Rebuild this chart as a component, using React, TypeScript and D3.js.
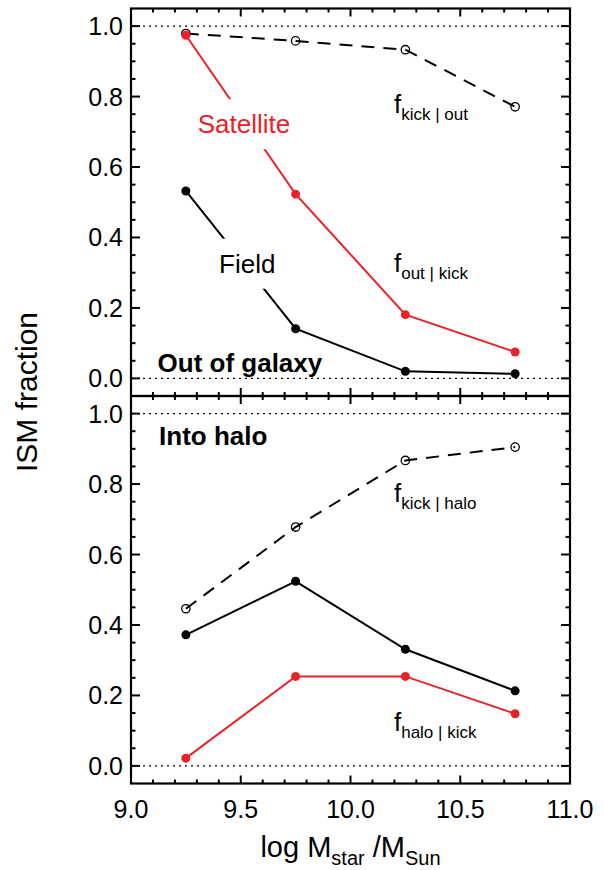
import React, { useEffect, useRef } from 'react';
import * as d3 from 'd3';

// stellar mass bins (log M_star / M_Sun)
const massBins = [9.25, 9.75, 10.25, 10.75];

// top panel: out of galaxy
const kickOut = [0.979, 0.958, 0.933, 0.771];
const satelliteOut = [0.974, 0.523, 0.181, 0.075];
const fieldOut = [0.532, 0.141, 0.020, 0.013];

// bottom panel: into halo
const kickHalo = [0.446, 0.678, 0.867, 0.905];
const fieldHalo = [0.372, 0.524, 0.331, 0.213];
const satelliteHalo = [0.022, 0.254, 0.254, 0.148];

const xTicks = [9.0, 9.5, 10.0, 10.5, 11.0];
const yTicks = [0.0, 0.2, 0.4, 0.6, 0.8, 1.0];

const W = 604;
const H = 870;
const left = 131;
const right = 570;
const panelTops = [8.5, 396];
const panelH = 387.5;
const RED = '#e8222a';
const FONT = '"Liberation Sans", Arial, Helvetica, sans-serif';

const x = d3.scaleLinear().domain([9, 11]).range([left, right]);

type Series = { values: number[]; color: string; dashed?: boolean; open?: boolean };
type Note = { x: number; y: number; main: string; sub?: string; color?: string; bold?: boolean; size?: number; gap?: boolean };

const GapLabel: React.FC<{ note: Note; y: d3.ScaleLinear<number, number> }> = ({ note, y }) => {
  const textRef = useRef<SVGTextElement>(null);
  const rectRef = useRef<SVGRectElement>(null);
  useEffect(() => {
    if (!note.gap || !textRef.current || !rectRef.current) return;
    const b = textRef.current.getBBox();
    d3.select(rectRef.current)
      .attr('x', b.x - 6)
      .attr('y', b.y - 10)
      .attr('width', b.width + 12)
      .attr('height', b.height + 20);
  }, [note, y]);
  return (
    <g>
      {note.gap && <rect ref={rectRef} fill="#fff" />}
      <text
        ref={textRef}
        x={x(note.x)}
        y={y(note.y)}
        fill={note.color || '#000'}
        fontFamily={FONT}
        fontSize={note.size || 26}
        fontWeight={note.bold ? 'bold' : 'normal'}
      >
        {note.main}
        {note.sub && (
          <tspan fontSize={17} dy={7}>{note.sub}</tspan>
        )}
      </text>
    </g>
  );
};

const Panel: React.FC<{ top: number; series: Series[]; notes: Note[]; showX: boolean }> = ({ top, series, notes, showX }) => {
  const y = d3.scaleLinear().domain([-0.05, 1.05]).range([top + panelH, top]);
  const line = d3.line<number>().x((_, i) => x(massBins[i])).y(d => y(d));
  const xMinor = d3.range(9, 11.0001, 0.1);
  const yMinor = d3.range(0, 1.0001, 0.05);
  const isMajorX = (v: number) => Math.abs(v * 2 - Math.round(v * 2)) < 1e-6;
  const isMajorY = (v: number) => Math.abs(v * 5 - Math.round(v * 5)) < 1e-6;
  const bottom = top + panelH;

  return (
    <g>
      {/* reference levels */}
      {[0, 1].map(v => (
        <line key={v} x1={left} x2={right} y1={y(v)} y2={y(v)} stroke="#000" strokeWidth={1.2} strokeDasharray="2,4" />
      ))}

      {series.map((s, i) => (
        <path key={i} d={line(s.values) || ''} fill="none" stroke={s.color} strokeWidth={2}
          strokeDasharray={s.dashed ? '13,9' : undefined} />
      ))}
      {series.map((s, i) => (
        <g key={'m' + i}>
          {s.values.map((v, j) => (
            <circle key={j} cx={x(massBins[j])} cy={y(v)} r={s.open ? 4.2 : 4.5}
              fill={s.open ? 'none' : s.color} stroke={s.color} strokeWidth={s.open ? 1.3 : 0} />
          ))}
        </g>
      ))}

      {notes.map((n, i) => <GapLabel key={i} note={n} y={y} />)}

      {/* ticks on all four sides */}
      {xMinor.map((v, i) => {
        const len = isMajorX(v) ? 8 : 4;
        return (
          <g key={'xt' + i}>
            <line x1={x(v)} x2={x(v)} y1={bottom} y2={bottom - len} stroke="#000" strokeWidth={2} />
            <line x1={x(v)} x2={x(v)} y1={top} y2={top + len} stroke="#000" strokeWidth={2} />
          </g>
        );
      })}
      {yMinor.map((v, i) => {
        const len = isMajorY(v) ? 9 : 4.5;
        return (
          <g key={'yt' + i}>
            <line x1={left} x2={left + len} y1={y(v)} y2={y(v)} stroke="#000" strokeWidth={2} />
            <line x1={right} x2={right - len} y1={y(v)} y2={y(v)} stroke="#000" strokeWidth={2} />
          </g>
        );
      })}
      {yTicks.map(v => (
        <text key={'yl' + v} x={left - 8} y={y(v) + 9} textAnchor="end" fontFamily={FONT} fontSize={25}>
          {v.toFixed(1)}
        </text>
      ))}
      {showX && xTicks.map(v => (
        <text key={'xl' + v} x={x(v)} y={818} textAnchor="middle" fontFamily={FONT} fontSize={25}>
          {v.toFixed(1)}
        </text>
      ))}
      <rect x={left} y={top} width={right - left} height={panelH} fill="none" stroke="#000" strokeWidth={2.2} />
    </g>
  );
};

const topSeries: Series[] = [
  { values: kickOut, color: '#000', dashed: true, open: true },
  { values: satelliteOut, color: RED },
  { values: fieldOut, color: '#000' },
];
const topNotes: Note[] = [
  { x: 9.304, y: 0.696, main: 'Satellite', color: RED, gap: true },
  { x: 9.401, y: 0.300, main: 'Field', gap: true },
  { x: 10.198, y: 0.752, main: 'f', sub: 'kick | out' },
  { x: 10.198, y: 0.303, main: 'f', sub: 'out | kick' },
  { x: 9.121, y: 0.019, main: 'Out of galaxy', bold: true },
];

const bottomSeries: Series[] = [
  { values: kickHalo, color: '#000', dashed: true, open: true },
  { values: fieldHalo, color: '#000' },
  { values: satelliteHalo, color: RED },
];
const bottomNotes: Note[] = [
  { x: 9.128, y: 0.910, main: 'Into halo', bold: true },
  { x: 10.198, y: 0.749, main: 'f', sub: 'kick | halo' },
  { x: 10.198, y: 0.100, main: 'f', sub: 'halo | kick' },
];

export default function App() {
  return (
    <svg width={W} height={H} viewBox={`0 0 ${W} ${H}`}
      style={{ position: 'absolute', left: 0, top: 0, background: '#fff' }}>
      <rect width={W} height={H} fill="#fff" />
      <Panel top={panelTops[0]} series={topSeries} notes={topNotes} showX={false} />
      <Panel top={panelTops[1]} series={bottomSeries} notes={bottomNotes} showX={true} />

      <text transform="translate(37,392) rotate(-90)" textAnchor="middle" fontFamily={FONT} fontSize={30}>
        ISM fraction
      </text>
      <text x={(left + right) / 2} y={857} textAnchor="middle" fontFamily={FONT} fontSize={29}>
        log M<tspan fontSize={20} dy={8}>star</tspan>
        <tspan dy={-8}> /M</tspan>
        <tspan fontSize={20} dy={8}>Sun</tspan>
      </text>
    </svg>
  );
}
